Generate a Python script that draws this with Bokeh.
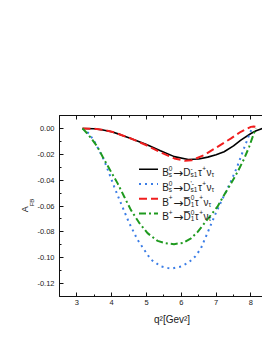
import math
from bokeh.plotting import figure
from bokeh.models import Range1d, LinearAxis, Label, Title, SingleIntervalTicker, PrintfTickFormatter
from bokeh.embed import file_html
from bokeh.resources import INLINE

# ---------------- data ----------------
q2_bs_ds1 = [3.16, 3.5, 3.75, 4.0, 4.25, 4.55, 5.0, 5.4, 5.8, 6.2, 6.5, 6.76, 7.0, 7.23, 7.5, 7.71, 8.0, 8.15, 8.34]
afb_bs_ds1 = [0.0, -0.0003, -0.0012, -0.0026, -0.0048, -0.0078, -0.0125, -0.0172, -0.0218, -0.0240, -0.0236,
              -0.0222, -0.0203, -0.0180, -0.0135, -0.0090, -0.0039, -0.0018, 0.0]

q2_bs_ds1p = [3.16, 3.35, 3.5, 3.64, 3.78, 3.93, 4.07, 4.22, 4.36, 4.5, 4.74, 5.0, 5.13, 5.41, 5.7, 6.0, 6.22,
              6.4, 6.56, 6.71, 6.85, 7.0, 7.2, 7.4, 7.6, 7.8, 7.95, 8.03]
afb_bs_ds1p = [0.0, -0.004, -0.010, -0.017, -0.0245, -0.035, -0.045, -0.055, -0.064, -0.073, -0.086, -0.0965,
               -0.1015, -0.1067, -0.1085, -0.1068, -0.1035, -0.099, -0.093, -0.0835, -0.0745, -0.065, -0.0535,
               -0.0425, -0.030, -0.0155, -0.005, 0.0]

q2_bp_d1 = [3.16, 3.5, 3.75, 4.0, 4.5, 5.0, 5.4, 5.8, 6.1, 6.3, 6.66, 7.04, 7.43, 7.71, 7.9, 8.0, 8.08, 8.15]
afb_bp_d1 = [0.0, -0.0003, -0.001, -0.0025, -0.0072, -0.013, -0.0185, -0.0232, -0.0250, -0.0246, -0.0206,
             -0.0142, -0.0077, -0.0026, 0.0, 0.0012, 0.0015, 0.0012]

q2_bp_d1p = [3.16, 3.3, 3.45, 3.59, 3.74, 3.98, 4.17, 4.36, 4.55, 4.79, 5.03, 5.32, 5.55, 5.79, 6.05, 6.28, 6.47,
             6.66, 6.85, 7.04, 7.23, 7.43, 7.62, 7.81, 7.95, 8.05, 8.14]
afb_bp_d1p = [0.0, -0.004, -0.009, -0.0142, -0.0219, -0.0335, -0.0425, -0.0528, -0.063, -0.073, -0.081, -0.087,
              -0.0888, -0.0895, -0.0885, -0.085, -0.080, -0.0735, -0.067, -0.0605, -0.0515, -0.0425, -0.0335,
              -0.0232, -0.0142, -0.0065, 0.0]

x_range = (2.5, 8.333)
y_range = (-0.13, 0.01)
x_title = "q²[Gev²]"
y_title_main = "A"
y_title_sub = "FB"

FONT = "Liberation Sans"
BLACK = "#000000"
BLUE = "#3b7de6"
RED = "#f01e1e"
GREEN = "#1f9a1f"
TXT = "#1a1a1a"

# ---------------- layout ----------------
W, H = 262, 336
FL, FR, FT, FB = 59, 262, 115, 296  # frame edges in page pixels

p = figure(width=W, height=H, output_backend="svg", toolbar_location=None,
           x_range=Range1d(*x_range), y_range=Range1d(*y_range),
           min_border_left=FL, min_border_right=W - FR,
           min_border_top=FT, min_border_bottom=H - FB,
           background_fill_color="white", border_fill_color="white")
p.outline_line_color = None
p.grid.visible = False


def dx(px):
    return x_range[0] + (px - FL) / (FR - FL) * (x_range[1] - x_range[0])


def dy(py):
    return y_range[1] - (py - FT) / (FB - FT) * (y_range[1] - y_range[0])


def style_axis(ax, labels=True):
    ax.axis_line_color = "#111111"
    ax.axis_line_width = 1
    ax.major_tick_in = 4
    ax.major_tick_out = 0
    ax.minor_tick_in = 2
    ax.minor_tick_out = 0
    ax.major_tick_line_color = "#111111"
    ax.minor_tick_line_color = "#111111"
    ax.major_label_text_font = FONT
    ax.major_label_text_font_size = "7.5px"
    ax.major_label_text_color = TXT
    if not labels:
        ax.major_label_text_font_size = "0px"
        ax.major_label_text_alpha = 0


p.xaxis.ticker = SingleIntervalTicker(interval=1, num_minor_ticks=2)
p.yaxis.ticker = SingleIntervalTicker(interval=0.02, num_minor_ticks=2)
p.yaxis.formatter = PrintfTickFormatter(format="%.2f")
style_axis(p.xaxis[0])
style_axis(p.yaxis[0])
p.xaxis.major_label_standoff = 3
p.yaxis.major_label_standoff = 5

top = LinearAxis(ticker=SingleIntervalTicker(interval=1, num_minor_ticks=2))
style_axis(top, labels=False)
p.add_layout(top, "above")

# ---------------- curves ----------------
p.line(q2_bs_ds1, afb_bs_ds1, line_color=BLACK, line_width=1.6)
p.line(q2_bs_ds1p, afb_bs_ds1p, line_color=BLUE, line_width=2, line_dash="2 4")
p.line(q2_bp_d1, afb_bp_d1, line_color=RED, line_width=2, line_dash="8 4")
p.line(q2_bp_d1p, afb_bp_d1p, line_color=GREEN, line_width=2, line_dash="7 3 2 3")

# ---------------- legend (drawn by hand for sub/superscripts) ----------------
WID = {"B": .667, "D": .722, "s": .5, "0": .556, "1": .556, "+": .584, "-": .333, "'": .191,
       "τ": .44, "ν": .5, "D\u0305": .722}

BASE, SCR = 10, 6.5
ARROW_FS, ARROW_W = 12, 0.838


def tw(t, fs):
    if t in WID:
        return WID[t] * fs
    return sum(WID.get(c, .556) for c in t) * fs


def lab(text, px, py, fs, font=FONT):
    p.add_layout(Label(x=dx(px), y=dy(py), text=text, text_font=font, text_font_size=f"{fs}px",
                       text_color=TXT, text_baseline="alphabetic", text_align="left"))


def compose(x0, ycen, pieces):
    base = ycen + 3.4
    x = x0
    for kind, *vals in pieces:
        if kind == "b":
            lab(vals[0], x, base, BASE)
            x += tw(vals[0], BASE)
        elif kind == "arrow":
            lab("→", x, base + 0.6, ARROW_FS, font="DejaVu Sans")
            x += ARROW_W * ARROW_FS + 0.3
        elif kind == "sup":
            lab(vals[0], x, base - 4.2, SCR)
            x += tw(vals[0], SCR) + 0.5
        elif kind == "sub":
            lab(vals[0], x, base + 2.0, SCR)
            x += tw(vals[0], SCR) + 0.5
        elif kind == "st":
            sub, sup = vals
            lab(sub, x, base + 2.0, SCR)
            lab(sup, x, base - 4.2, SCR)
            x += max(tw(sub, SCR), tw(sup, SCR)) + 0.5


legend_rows = [
    (BLACK, "solid", 1.6, [("b", "B"), ("st", "s", "0"), ("arrow",), ("b", "D"), ("st", "s1", "-"),
                           ("b", "τ"), ("sup", "+"), ("b", "ν"), ("sub", "τ")]),
    (BLUE, "2 4", 2, [("b", "B"), ("st", "s", "0"), ("arrow",), ("b", "D"), ("st", "s1", "'-"),
                      ("b", "τ"), ("sup", "+"), ("b", "ν"), ("sub", "τ")]),
    (RED, "8 4", 2, [("b", "B"), ("sup", "+"), ("arrow",), ("b", "D\u0305"), ("st", "1", "0"),
                     ("b", "τ"), ("sup", "+"), ("b", "ν"), ("sub", "τ")]),
    (GREEN, "7 3 2 3", 2, [("b", "B"), ("sup", "+"), ("arrow",), ("b", "D\u0305"), ("st", "1", "0"),
                           ("b", "τ"), ("sup", "+"), ("b", "ν"), ("sub", "τ")]),
]
row_y = 168.8
for color, dash, lw, pieces in legend_rows:
    p.line([dx(138.5), dx(157.5)], [dy(row_y), dy(row_y)], line_color=color, line_width=lw, line_dash=dash)
    compose(161.7, row_y, pieces)
    row_y += 14.7

# ---------------- axis titles (Title objects live in the side panels) ----------------
p.add_layout(Title(text=x_title, align="left", offset=94.5, standoff=8, text_font=FONT,
                   text_font_size="10px", text_font_style="normal", text_color=TXT), "below")
p.add_layout(Title(text=y_title_sub, align="left", offset=FB - 205.8, standoff=0, text_font=FONT,
                   text_font_size="6px", text_font_style="normal", text_color=TXT), "left")
p.add_layout(Title(text=y_title_main, align="left", offset=FB - 211.7, standoff=-7, text_font=FONT,
                   text_font_size="9px", text_font_style="normal", text_color=TXT), "left")

open("out.html", "w").write(file_html(p, INLINE))
